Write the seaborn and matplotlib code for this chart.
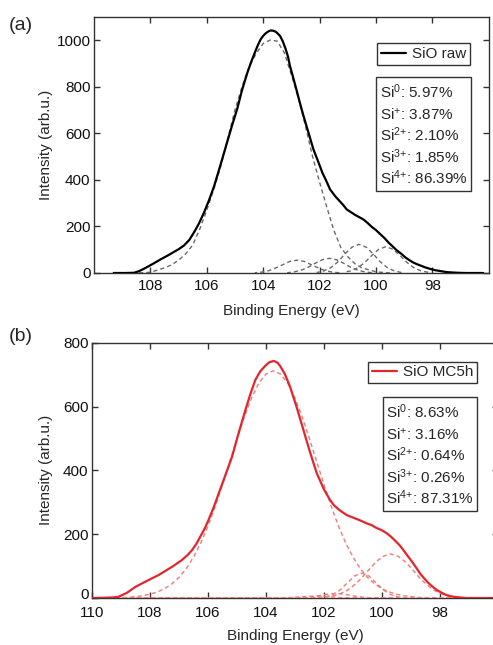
import numpy as np
import pandas as pd
import matplotlib
matplotlib.use("Agg")
import matplotlib.pyplot as plt
import matplotlib.transforms as mtransforms
from matplotlib.patches import Rectangle
import seaborn as sns

# ---- panel (a): SiO raw ----
raw_a_E = [109.3, 108.9, 108.58, 108.4, 108.2, 107.9, 107.63, 107.4, 107.2, 107.0, 106.81, 106.62,
           106.45, 106.28, 106.1, 105.92, 105.74, 105.5, 105.27, 105.1, 104.92, 104.75, 104.56,
           104.43, 104.3, 104.2, 104.09, 104.0, 103.9, 103.8, 103.73, 103.65, 103.55, 103.48,
           103.4, 103.3, 103.2, 103.12, 103.05, 102.95, 102.85, 102.7, 102.58, 102.45, 102.33,
           102.22, 102.05, 101.9, 101.75, 101.63, 101.45, 101.3, 101.15, 101.04, 100.9, 100.75,
           100.6, 100.45, 100.3, 100.15, 100.0, 99.86, 99.7, 99.55, 99.4, 99.27, 99.1, 98.95,
           98.8, 98.68, 98.55, 98.4, 98.25, 98.09, 97.9, 97.7, 97.5, 97.26, 97.0, 96.8, 96.2]
raw_a_I = [0, 0, 1, 8, 20, 40, 59, 74, 88, 102, 118, 142,
           175, 212, 259, 313, 373, 470, 565, 635, 705, 785, 860,
           905, 945, 975, 1003, 1018, 1030, 1038, 1041, 1040, 1035, 1027,
           1017, 993, 960, 928, 888, 845, 800, 731, 678, 625, 576,
           531, 478, 430, 392, 359, 330, 310, 290, 273, 262, 250,
           240, 230, 215, 198, 184, 168, 150, 130, 113, 98, 82, 66,
           54, 45, 38, 31, 24, 18, 12, 8, 4, 2, 0.5, 0, 0]

si4_a_E = [108.5, 108, 107.5, 107.25, 107, 106.75, 106.5, 106.25, 106, 105.75, 105.5, 105.25, 105,
           104.75, 104.5, 104.25, 104, 103.75, 103.5, 103.25, 103, 102.75, 102.5, 102.25, 102,
           101.75, 101.5, 101.25, 101, 100.75, 100.5, 100, 99.5]
si4_a_I = [0, 3, 22, 35, 55, 82, 120, 188, 270, 360, 460, 580, 700,
           800, 885, 942, 985, 1000, 995, 945, 850, 750, 630, 500, 390,
           285, 185, 110, 70, 40, 22, 5, 0]

si3_a_E = [104.3, 104.05, 103.8, 103.55, 103.3, 103.05, 102.8, 102.55, 102.3, 102.05, 101.8, 101.55, 101.3]
si3_a_I = [1, 4, 10, 22, 36, 50, 55, 50, 36, 22, 10, 4, 1]

si2_a_E = [103.15, 102.9, 102.65, 102.4, 102.15, 101.9, 101.65, 101.4, 101.15, 100.9, 100.65, 100.4, 100.15]
si2_a_I = [1, 5, 12, 25, 42, 57, 63, 57, 42, 25, 12, 5, 1]

si1_a_E = [102.1, 101.85, 101.6, 101.35, 101.1, 100.85, 100.6, 100.35, 100.1, 99.85, 99.6, 99.35, 99.1]
si1_a_I = [2, 9, 23, 48, 82, 111, 123, 111, 82, 48, 23, 9, 2]

si0_a_E = [101.15, 100.9, 100.65, 100.4, 100.15, 99.9, 99.65, 99.4, 99.15, 98.9, 98.65, 98.4, 98.15]
si0_a_I = [3, 9, 22, 45, 75, 102, 113, 102, 75, 45, 22, 9, 3]

pct_a = ["5.97%", "3.87%", "2.10%", "1.85%", "86.39%"]

# ---- panel (b): SiO MC5h ----
raw_b_E = [110, 109.5, 109.25, 109.08, 108.8, 108.5, 108.1, 107.7, 107.45, 107.2, 106.9, 106.7,
           106.55, 106.4, 106.25, 106.1, 105.98, 105.8, 105.63, 105.4, 105.17, 104.95, 104.71,
           104.55, 104.37, 104.2, 104.02, 103.88, 103.73, 103.6, 103.52, 103.35, 103.17, 102.95,
           102.71, 102.5, 102.25, 102.0, 101.79, 101.65, 101.5, 101.35, 101.22, 101.0, 100.75,
           100.53, 100.35, 100.2, 100.0, 99.84, 99.7, 99.55, 99.4, 99.26, 99.1, 98.95, 98.82,
           98.69, 98.55, 98.4, 98.25, 98.11, 97.95, 97.8, 97.65, 97.54, 97.3, 97.1, 96]
raw_b_I = [0, 1, 2, 4, 16, 35, 54, 72, 86, 100, 119, 135,
           150, 170, 195, 220, 245, 285, 328, 385, 443, 515, 589,
           636, 683, 710, 728, 739, 743, 737, 728, 702, 662, 600,
           527, 462, 391, 340, 307, 290, 278, 268, 260, 252, 243,
           234, 228, 220, 212, 203, 193, 180, 166, 150, 130, 112, 95,
           77, 62, 47, 35, 25, 17, 10, 6, 4, 1.5, 0, 0]

si4_b_E = [110, 109.25, 108.75, 108.25, 108.0, 107.75, 107.5, 107.25, 107.0, 106.75, 106.5, 106.25,
           106.0, 105.75, 105.5, 105.25, 105.0, 104.75, 104.5, 104.25, 104.0, 103.75, 103.5,
           103.25, 103.0, 102.75, 102.5, 102.25, 102.0, 101.75, 101.5, 101.25, 101.0, 100.75,
           100.5, 100.25, 100.0, 99.75, 99.5, 99.25, 98.75, 98.25, 97.75, 96]
si4_b_I = [0, 0.7, 2, 7, 12, 19, 29, 44, 64.5, 92, 128, 172,
           225, 287, 355, 427, 499, 567, 626, 673, 702, 712, 702,
           673, 626, 567, 499, 427, 355, 287, 225, 172, 128, 92,
           64.5, 44, 29, 19, 12, 7, 2, 0.7, 0.2, 0]

si3_b_E = [110, 103.3, 103.05, 102.8, 102.55, 102.3, 102.05, 101.8, 101.55, 101.3, 96]
si3_b_I = [0, 0.8, 2, 3.6, 5.3, 6, 5.3, 3.6, 2, 0.8, 0]

si2_b_E = [110, 102.85, 102.6, 102.35, 102.1, 101.85, 101.6, 101.35, 101.1, 100.85, 100.6, 100.35, 96]
si2_b_I = [0, 0.6, 1.9, 4.5, 8.5, 12.3, 14, 12.3, 8.5, 4.5, 1.9, 0.6, 0]

si1_b_E = [110, 102.2, 101.95, 101.7, 101.45, 101.2, 100.95, 100.7, 100.45, 100.2, 99.95, 99.7, 99.45, 99.2, 96]
si1_b_I = [0, 0.9, 3.4, 10.5, 25, 47, 69, 78, 69, 47, 25, 10.5, 3.4, 0.9, 0]

si0_b_E = [110, 102.2, 101.95, 101.7, 101.45, 101.2, 100.95, 100.7, 100.45, 100.2, 99.95, 99.7,
           99.45, 99.2, 98.95, 98.7, 98.45, 98.2, 97.95, 97.7, 97.45, 97.2, 96]
si0_b_I = [0, 1, 2.6, 6, 13, 24, 41, 63, 89, 114, 131, 138,
           131, 114, 89, 63, 41, 24, 13, 6, 2.6, 1, 0]

pct_b = ["8.63%", "3.16%", "0.64%", "0.26%", "87.31%"]

species = ["0", "{+}", "2{+}", "3{+}", "4{+}"]

sns.set_style("ticks")
plt.rcParams['font.family'] = ['Liberation Sans', 'DejaVu Sans']
plt.rcParams['mathtext.fontset'] = 'custom'
plt.rcParams['mathtext.rm'] = 'Liberation Sans'
plt.rcParams['mathtext.it'] = 'Liberation Sans:italic'
plt.rcParams['mathtext.bf'] = 'Liberation Sans:bold'
plt.rcParams['mathtext.default'] = 'regular'

W, H = 493, 645
fig = plt.figure(figsize=(W / 100, H / 100), dpi=100)


def fx(x):
    return x / W


def fy(y):
    return 1 - y / H


def axes_box(left, right, top, bottom):
    return [fx(left), fy(bottom), (right - left) / W, (bottom - top) / H]


ax_a = fig.add_axes(axes_box(94, 488.8, 16.7, 273))
ax_b = fig.add_axes(axes_box(92, 498, 342.7, 598))

dash = (0, (3, 2.2))


def draw(ax, raw_E, raw_I, comps, raw_color, comp_color, label, zc):
    for E, I in comps:
        d = pd.DataFrame({"E": E, "I": I})
        sns.lineplot(data=d, x="E", y="I", ax=ax, color=comp_color, lw=1.0,
                     linestyle=dash, estimator=None, zorder=zc)
    d = pd.DataFrame({"E": raw_E, "I": raw_I})
    sns.lineplot(data=d, x="E", y="I", ax=ax, color=raw_color, lw=1.6,
                 estimator=None, label=label, zorder=zc + 1)


draw(ax_a, raw_a_E, raw_a_I,
     [(si4_a_E, si4_a_I), (si3_a_E, si3_a_I), (si2_a_E, si2_a_I), (si1_a_E, si1_a_I), (si0_a_E, si0_a_I)],
     "black", "#6a6a6a", "SiO raw", 2)
draw(ax_b, raw_b_E, raw_b_I,
     [(si4_b_E, si4_b_I), (si3_b_E, si3_b_I), (si2_b_E, si2_b_I), (si1_b_E, si1_b_I), (si0_b_E, si0_b_I)],
     "#e4252c", "#f07a7a", "SiO MC5h", 3)

ax_a.set_xlim(110, 96)
ax_a.set_ylim(0, 1100)
ax_a.set_xticks([108, 106, 104, 102, 100, 98])
ax_a.set_yticks([0, 200, 400, 600, 800, 1000])

ax_b.set_xlim(110, 96)
ax_b.set_ylim(0, 800)
ax_b.set_xticks([110, 108, 106, 104, 102, 100, 98])
ax_b.set_yticks([0, 200, 400, 600, 800])

for ax, xpad, ylx in [(ax_a, 4, -0.104), (ax_b, 5.5, -0.096)]:
    ax.tick_params(direction='in', top=True, right=True, length=4, width=1,
                   labelsize=11, color='#333333', labelcolor='#111111')
    ax.tick_params(axis='x', pad=xpad)
    ax.tick_params(axis='y', pad=2.5)
    for s in ax.spines.values():
        s.set_color('#333333')
        s.set_linewidth(1.0)
    ax.set_xlabel("Binding Energy (eV)", fontsize=11)
    ax.set_ylabel("Intensity (arb.u.)", fontsize=11)
    ax.yaxis.set_label_coords(ylx, 0.5)
    ax.xaxis.set_label_coords(0.5, -0.12)

# lift the "0" of panel (b) a little so it clears the "110" below it
zero_lab = ax_b.yaxis.get_major_ticks()[0].label1
zero_lab.set_transform(zero_lab.get_transform() +
                       mtransforms.ScaledTranslation(0, 3 / 72, fig.dpi_scale_trans))

leg_a = ax_a.legend(loc='upper right', bbox_to_anchor=(0.952, 0.897), fontsize=11,
                    fancybox=False, framealpha=1, edgecolor='#333333', borderpad=0.25,
                    handlelength=1.6, handletextpad=0.4, borderaxespad=0)
leg_b = ax_b.legend(loc='upper right', bbox_to_anchor=(0.948, 0.926), fontsize=11,
                    fancybox=False, framealpha=1, edgecolor='#333333', borderpad=0.25,
                    handlelength=1.6, handletextpad=0.4, borderaxespad=0)
for lg in (leg_a, leg_b):
    lg.get_frame().set_linewidth(1.0)

# percentage boxes
for (x0, y0, x1, y1), tx, base0, pcts in [((376, 77, 471, 191), 379.5, 97.7, pct_a),
                                            ((383, 397, 477, 511), 386, 417.7, pct_b)]:
    fig.patches.append(Rectangle((fx(x0), fy(y1)), (x1 - x0) / W, (y1 - y0) / H,
                                 transform=fig.transFigure, fill=True, facecolor='white',
                                 edgecolor='#333333', lw=1.0, zorder=5))
    for i, (sp, p) in enumerate(zip(species, pcts)):
        fig.text(fx(tx), fy(base0 + i * 21.65), r"Si$^{%s}$: %s" % (sp, p),
                 fontsize=11, va='baseline', ha='left', zorder=6)

fig.text(fx(9), fy(26), "(a)", fontsize=14, va='center', ha='left')
fig.text(fx(9), fy(337), "(b)", fontsize=14, va='center', ha='left')

fig.savefig("out.png", dpi=100)
